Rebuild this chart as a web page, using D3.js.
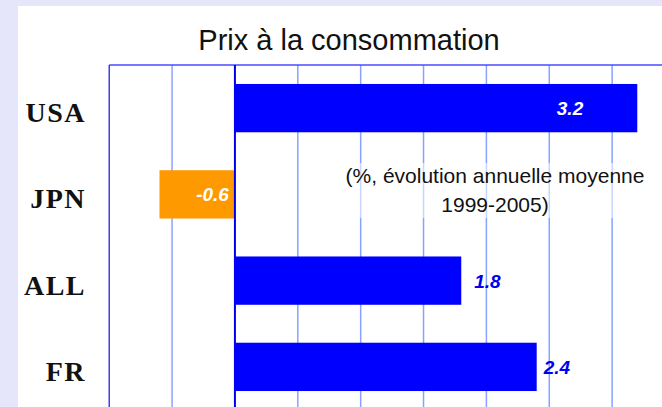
<!DOCTYPE html>
<meta charset="utf-8">
<style>
  body { margin: 0; background: #e6e6fa; }
  svg { display: block; }
</style>
<svg width="662" height="407"></svg>
<script src="https://d3js.org/d3.v7.min.js"></script>
<script>
const countries = ["USA", "JPN", "ALL", "FR"];
const values = [3.2, -0.6, 1.8, 2.4];
const gridTicks = [-0.5, 0, 0.5, 1, 1.5, 2, 2.5, 3, 3.5];
const title = "Prix à la consommation";
const note = ["(%, évolution annuelle moyenne", "1999-2005)"];

const data = countries.map((c, i) => ({country: c, value: values[i]}));

const svg = d3.select("svg");
const W = 662, H = 407;
const margin = {top: 65, left: 109.2, right: -13, bottom: -3};

// white panel
svg.append("rect")
    .attr("x", 18).attr("y", 6)
    .attr("width", W - 18).attr("height", H - 6)
    .attr("fill", "#fff");

const x = d3.scaleLinear([-1, 3.5], [margin.left, W - margin.right]);
const y = d3.scaleBand(countries, [margin.top, H - margin.bottom])
    .paddingInner(0.44)
    .paddingOuter(0.22);

// grid
svg.append("g")
  .selectAll("line")
  .data(gridTicks.filter(d => d !== 0))
  .join("line")
    .attr("x1", d => x(d)).attr("x2", d => x(d))
    .attr("y1", margin.top).attr("y2", H)
    .attr("stroke", "#8aa2ff")
    .attr("stroke-width", 1.5);

// note with faded background
const noteX = 495;
svg.append("rect")
    .attr("x", 340).attr("y", 163)
    .attr("width", 312).attr("height", 55)
    .attr("fill", "#fff").attr("opacity", 0.55);
svg.append("g")
    .attr("font-family", "Liberation Sans, Arial, sans-serif")
    .attr("font-size", 21)
    .attr("fill", "#111")
    .attr("text-anchor", "middle")
  .selectAll("text")
  .data(note)
  .join("text")
    .attr("x", noteX)
    .attr("y", (d, i) => 183 + i * 28.5)
    .text(d => d);

// frame
svg.append("line")
    .attr("x1", margin.left).attr("x2", W)
    .attr("y1", margin.top).attr("y2", margin.top)
    .attr("stroke", "#4a4aff").attr("stroke-width", 1.5);
svg.append("line")
    .attr("x1", margin.left).attr("x2", margin.left)
    .attr("y1", margin.top).attr("y2", H)
    .attr("stroke", "#1010f0").attr("stroke-width", 1.2);

// bars
svg.append("g")
  .selectAll("rect")
  .data(data)
  .join("rect")
    .attr("x", d => x(Math.min(0, d.value)))
    .attr("width", d => Math.abs(x(d.value) - x(0)))
    .attr("y", d => y(d.country))
    .attr("height", y.bandwidth())
    .attr("fill", d => d.value < 0 ? "#ff9900" : "#0000ff");

// zero line
svg.append("line")
    .attr("x1", x(0)).attr("x2", x(0))
    .attr("y1", margin.top).attr("y2", H)
    .attr("stroke", "#0000ee").attr("stroke-width", 2);

// value labels
const labelPos = {
  USA: {end: x(2.77), inside: true},
  JPN: {end: x(0) - 6, inside: true},
  ALL: {start: x(1.8) + 13, inside: false},
  FR:  {start: x(2.4) + 7, inside: false}
};
svg.append("g")
    .attr("font-family", "Liberation Sans, Arial, sans-serif")
    .attr("font-size", 19)
    .attr("font-weight", "bold")
    .attr("font-style", "italic")
  .selectAll("text")
  .data(data)
  .join("text")
    .attr("x", d => labelPos[d.country].inside ? labelPos[d.country].end : labelPos[d.country].start)
    .attr("y", d => y(d.country) + y.bandwidth() / 2 + 7)
    .attr("text-anchor", d => labelPos[d.country].inside ? "end" : "start")
    .attr("fill", d => labelPos[d.country].inside ? "#fff" : "#0000ee")
    .text(d => d.value.toFixed(1));

// category labels
svg.append("g")
    .attr("font-family", "Liberation Serif, Times New Roman, serif")
    .attr("font-size", 28)
    .attr("font-weight", "bold")
    .attr("letter-spacing", 1.5)
    .attr("fill", "#111")
    .attr("text-anchor", "end")
  .selectAll("text")
  .data(countries)
  .join("text")
    .attr("x", 86)
    .attr("y", d => y(d) + y.bandwidth() / 2 + 14)
    .text(d => d);

// title
svg.append("text")
    .attr("x", 349)
    .attr("y", 50)
    .attr("font-family", "Liberation Sans, Arial, sans-serif")
    .attr("font-size", 29)
    .attr("fill", "#111")
    .attr("text-anchor", "middle")
    .text(title);
</script>
